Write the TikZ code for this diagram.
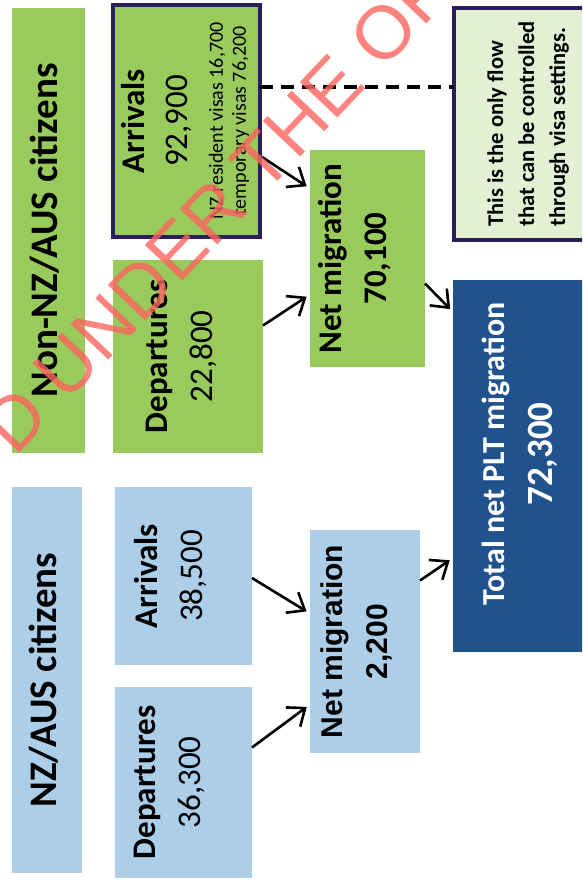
\documentclass[tikz,border=0pt]{standalone}
\usepackage{fontspec}
\setmainfont{Carlito}
\newfontfamily\arialfont{Liberation Sans}
\usetikzlibrary{arrows.meta}

\definecolor{migGreen}{RGB}{152,202,92}
\definecolor{migBlue}{RGB}{172,206,232}
\definecolor{migNavy}{RGB}{32,82,142}
\definecolor{noteGreen}{RGB}{228,240,212}
\definecolor{edgePurple}{RGB}{42,30,92}
\definecolor{stampRed}{RGB}{252,100,94}

% text turned to read upwards, shifted left by half of #1
\newcommand{\uptext}[2][0pt]{\rotatebox{90}{#2}\hspace*{#1}}

\begin{document}
\begin{tikzpicture}[x=1pt, y=-1pt,
  box/.style={rectangle, inner sep=0pt, outer sep=0pt, anchor=north west},
  framed/.style={draw=edgePurple, line width=3.5pt},
  flow/.style={-{Straight Barb[length=15pt,width=24pt]}, line width=2.6pt, shorten >=4pt},
  dashline/.style={line width=3.5pt, dash pattern=on 13pt off 8pt},
  stamp/.style={text=stampRed, text opacity=0.8, rotate=46.5, font=\arialfont\fontsize{75}{75}\selectfont}]

% Page
\useasboundingbox (0,0) rectangle (582,882);
\clip (0,0) rectangle (582,882);

% Headers
\node[box, fill=migGreen, minimum width=73pt, minimum height=445pt] (hdrNon) at (12,8)
  {\uptext[7pt]{\fontsize{39}{47}\selectfont\bfseries Non-NZ/AUS citizens}};
\node[box, fill=migBlue, minimum width=70pt, minimum height=386pt] (hdrNZ) at (12,487)
  {\uptext[7pt]{\fontsize{39}{47}\selectfont\bfseries NZ/AUS citizens}};

% Non-NZ/AUS flows
\node[box, framed, fill=migGreen, minimum width=147pt, minimum height=232pt] (arrG) at (113,5)
  {\uptext{\fontsize{33}{35}\selectfont\begin{tabular}{@{}c@{}}\bfseries Arrivals\\[8pt] 92,900\\
   \fontsize{20}{23}\selectfont\begin{tabular}[t]{@{}c@{}}NZ resident visas 16,700\\ temporary visas 76,200\end{tabular}\end{tabular}}};
\node[box, fill=migGreen, minimum width=150pt, minimum height=193pt] (depG) at (113,260)
  {\uptext[15pt]{\fontsize{33}{45}\selectfont\begin{tabular}{@{}c@{}}\bfseries Departures\\ 22,800\end{tabular}}};
\node[box, fill=migGreen, minimum width=110pt, minimum height=217pt] (netG) at (310,150)
  {\uptext[25pt]{\fontsize{33}{45}\selectfont\bfseries\begin{tabular}{@{}c@{}}Net migration\\ 70,100\end{tabular}}};

% NZ/AUS flows
\node[box, fill=migBlue, minimum width=137pt, minimum height=178pt] (arrB) at (115,487)
  {\uptext[26pt]{\fontsize{33}{45}\selectfont\begin{tabular}{@{}c@{}}\bfseries Arrivals\\ 38,500\end{tabular}}};
\node[box, fill=migBlue, minimum width=137pt, minimum height=191pt] (depB) at (115,687)
  {\uptext[30pt]{\fontsize{33}{45}\selectfont\begin{tabular}{@{}c@{}}\bfseries Departures\\ 36,300\end{tabular}}};
\node[box, fill=migBlue, minimum width=110pt, minimum height=223pt] (netB) at (310,530)
  {\uptext[19pt]{\arialfont\fontsize{30}{45}\selectfont\bfseries\begin{tabular}{@{}c@{}}Net migration\\ 2,200\end{tabular}}};

% Total and note
\node[box, fill=migNavy, text=white, minimum width=131pt, minimum height=372pt] (total) at (453,280)
  {\rotatebox{90}{\hspace*{24pt}\fontsize{32}{48}\selectfont\bfseries\begin{tabular}{@{}c@{}}Total net PLT migration\\ \fontsize{37}{48}\selectfont 72,300\end{tabular}}};
\node[box, framed, fill=noteGreen, minimum width=148pt, minimum height=232pt] (note) at (454,8)
  {\uptext{\fontsize{22.5}{31}\selectfont\bfseries\begin{tabular}{@{}l@{}}This is the only flow\\ that can be controlled\\ through visa settings.\end{tabular}}};

% Dashed link to the note
\coordinate (dashA) at ([yshift=34pt]arrG.east);
\draw[dashline] (dashA) -- (dashA -| note.west);

% Arrows
\draw[flow] ([xshift=2pt,yshift=-36pt]arrG.east) -- ([yshift=70pt]netG.west);
\draw[flow] ([yshift=31pt]depG.east) -- ([yshift=-36pt]netG.west);
\draw[flow] ([yshift=-25pt]netG.east) -- ([yshift=154pt]total.west);
\draw[flow] ([yshift=-2pt]arrB.east) -- ([yshift=28pt]netB.west);
\draw[flow] ([yshift=35pt]depB.east) -- ([yshift=-63pt]netB.west);
\draw[flow] ([yshift=61pt]netB.east) -- ([yshift=-92pt]total.west);

% Stamp across the page
\node[stamp] (mark) at (216,209) {D UNDER THE OF};

\end{tikzpicture}
\end{document}
